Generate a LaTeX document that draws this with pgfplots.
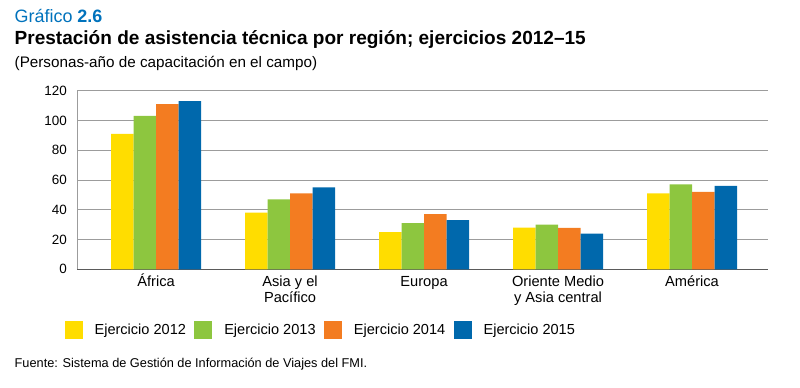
\documentclass[border=0pt]{standalone}
\usepackage{pgfplots}
\pgfplotsset{compat=1.18}
\usepackage{fontspec}
\setmainfont{Liberation Sans}
\definecolor{cY}{HTML}{FFDD00}
\definecolor{cG}{HTML}{8DC63F}
\definecolor{cO}{HTML}{F37C21}
\definecolor{cB}{HTML}{0068AC}
\definecolor{titleblue}{HTML}{0072BC}
\definecolor{gridc}{HTML}{9C9C9C}
\definecolor{axc}{HTML}{5A5A5A}
\newcommand{\R}{\rule{0pt}{14bp}}
\pgfplotsset{sq/.style={legend image code/.code={\fill[##1] (0bp,-9bp) rectangle (18bp,9bp);}}}
\begin{document}
\begin{tikzpicture}
\useasboundingbox (0bp,0bp) rectangle (800bp,388bp);
\node[anchor=base west, inner sep=0pt, text=titleblue, font=\fontsize{18}{20}\selectfont] at (14.5bp,365.5bp) {Gráfico \textbf{2.6}};
\node[anchor=base west, inner sep=0pt, font=\fontsize{19.1}{21}\selectfont\bfseries] at (14.5bp,343bp) {Prestación de asistencia técnica por región; ejercicios 2012–15};
\node[anchor=base west, inner sep=0pt, font=\fontsize{15.3}{17}\selectfont] at (14.5bp,320.8bp) {(Personas-año de capacitación en el campo)};
\node[anchor=base west, inner sep=0pt, font=\fontsize{12.8}{14}\selectfont] at (14.5bp,21bp) {Fuente: Sistema de Gestión de Información de Viajes del FMI.};
\begin{axis}[
  at={(77bp,118.7bp)}, anchor=south west, scale only axis,
  width=691bp, height=178.6bp,
  ybar=0pt, bar width=22.5bp,
  xmin=-0.59, xmax=4.567, ymin=0, ymax=120,
  ytick={0,20,...,120},
  xtick={0,...,4},
  xticklabels={\R África,{\R Asia y el\\Pacífico},\R Europa,{\R Oriente Medio\\y Asia central},\R América},
  x tick label style={align=center, font=\fontsize{14.7}{15.5}\selectfont, inner sep=0pt, anchor=north, yshift=-3.4bp},
  y tick label style={font=\fontsize{13.5}{15}\selectfont, inner sep=0pt, anchor=east, xshift=-10bp},
  /pgf/number format/assume math mode=true,
  major tick length=0pt,
  axis lines*=left,
  x axis line style={color=axc, line width=1bp},
  y axis line style={color=gridc, line width=0.9bp},
  ymajorgrids, major grid style={color=gridc, line width=0.9bp},
  legend columns=4,
  legend style={at={(-0.01794,-0.3399)}, anchor=west, draw=none, fill=none, inner sep=0pt, outer sep=0pt,
    font=\fontsize{14.6}{16}\selectfont, nodes={inner sep=0pt},
    /tikz/every odd column/.append style={column sep=12bp},
    /tikz/every even column/.append style={column sep=8.3bp}},
]
\addplot[fill=cY, draw=none, sq] coordinates {(0,91) (1,38) (2,25) (3,28) (4,51)};
\addplot[fill=cG, draw=none, sq] coordinates {(0,103) (1,47) (2,31) (3,30) (4,57)};
\addplot[fill=cO, draw=none, sq] coordinates {(0,111) (1,51) (2,37) (3,27.8) (4,52)};
\addplot[fill=cB, draw=none, sq] coordinates {(0,113) (1,55) (2,33) (3,24) (4,56)};
\legend{Ejercicio 2012,Ejercicio 2013,Ejercicio 2014,Ejercicio 2015}
\end{axis}
\end{tikzpicture}
\end{document}
